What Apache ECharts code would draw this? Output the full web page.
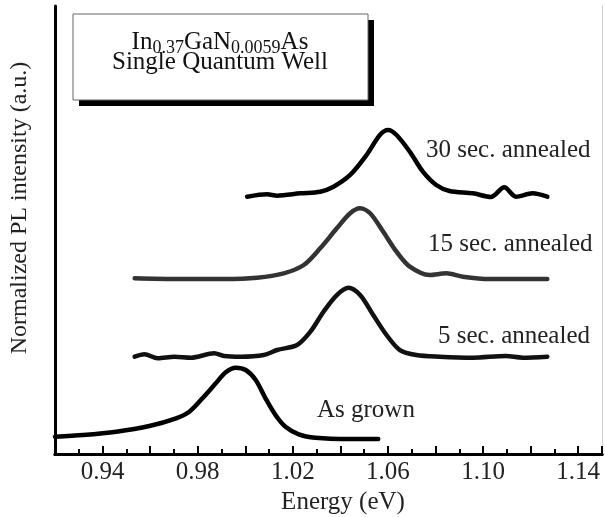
<!DOCTYPE html>
<html>
<head>
<meta charset="utf-8">
<script src="https://cdn.jsdelivr.net/npm/echarts@6/dist/echarts.min.js"></script>
<style>
  html, body { margin: 0; padding: 0; background: #fff; }
  #chart { width: 605px; height: 517px; }
</style>
</head>
<body>
<div id="chart"></div>
<script>
// PL spectra, energy (eV) vs normalized intensity (a.u., offset per curve)
const asGrownE = [0.9200, 0.9318, 0.9458, 0.9597, 0.9709, 0.9765, 0.9820, 0.9876, 0.9918, 0.9960, 1.0002, 1.0044, 1.0085, 1.0127, 1.0169, 1.0225, 1.0295, 1.0434, 1.0559];
const asGrownI = [3.86, 4.24, 4.98, 6.25, 7.97, 9.44, 12.43, 15.78, 18.24, 19.26, 18.75, 16.52, 12.43, 8.71, 6.09, 4.40, 3.64, 3.35, 3.35];

const sec5E = [0.9535, 0.9576, 0.9632, 0.9702, 0.9772, 0.9869, 0.9911, 0.9981, 1.0078, 1.0134, 1.0218, 1.0274, 1.0329, 1.0385, 1.0434, 1.0483, 1.0538, 1.0594, 1.0650, 1.0719, 1.0817, 1.0957, 1.1096, 1.1166, 1.1270];
const sec5I = [21.72, 22.25, 21.36, 21.72, 21.50, 22.48, 21.88, 21.72, 22.10, 23.21, 24.33, 27.30, 31.76, 35.49, 37.12, 35.49, 31.03, 26.56, 23.21, 22.10, 21.72, 21.50, 21.88, 21.50, 21.72];

const sec15E = [0.9535, 0.9702, 0.9911, 1.0050, 1.0162, 1.0246, 1.0315, 1.0385, 1.0441, 1.0483, 1.0525, 1.0580, 1.0636, 1.0692, 1.0775, 1.0845, 1.0915, 1.1026, 1.1166, 1.1270];
const sec15I = [39.22, 39.06, 39.06, 39.35, 40.33, 42.19, 45.91, 50.38, 53.73, 54.84, 53.73, 49.62, 45.16, 41.81, 39.96, 40.33, 39.58, 39.06, 39.06, 39.06];

const sec30E = [1.0008, 1.0092, 1.0134, 1.0232, 1.0315, 1.0371, 1.0441, 1.0510, 1.0566, 1.0601, 1.0636, 1.0692, 1.0747, 1.0803, 1.0859, 1.0957, 1.1033, 1.1089, 1.1138, 1.1208, 1.1270];
const sec30I = [57.43, 57.97, 57.66, 58.19, 58.55, 59.66, 62.28, 66.74, 71.21, 72.32, 71.21, 67.48, 63.01, 60.04, 58.71, 58.19, 57.37, 59.53, 57.43, 58.19, 57.43];

const curveNames = ['As grown', '5 sec. annealed', '15 sec. annealed', '30 sec. annealed'];

const FONT = '"Liberation Serif", "Times New Roman", serif';
const chart = echarts.init(document.getElementById('chart'));

function zip(xs, ys) {
  return xs.map((x, i) => [x, ys[i]]);
}

// measure text so the formula pieces sit next to each other
const mctx = document.createElement('canvas').getContext('2d');
function textW(s, size) {
  mctx.font = size + 'px ' + FONT;
  return mctx.measureText(s).width;
}

// title box formula In0.37GaN0.0059As
const pieces = [['In', 25, 0], ['0.37', 18, 1], ['GaN', 25, 0], ['0.0059', 18, 1], ['As', 25, 0]];
const boxCx = 220;
let total = 0;
pieces.forEach(p => { total += textW(p[0], p[1]); });
let px = boxCx - total / 2;
const formulaTexts = pieces.map(p => {
  const el = {
    type: 'text',
    left: px,
    top: p[2] ? 39 : 30,
    style: { text: p[0], font: p[1] + 'px ' + FONT, fill: '#111' }
  };
  px += textW(p[0], p[1]);
  return el;
});

function seriesOf(name, xs, ys, color) {
  return {
    name: name,
    type: 'line',
    data: zip(xs, ys),
    showSymbol: false,
    smooth: 0.3,
    animation: false,
    lineStyle: { color: color, width: 4.5, cap: 'round', join: 'round' }
  };
}

const option = {
  animation: false,
  grid: { left: 55, right: 1, top: 6, bottom: 63 },
  xAxis: [{
    type: 'value',
    min: 0.92,
    max: 1.15,
    interval: 0.02,
    axisLine: { lineStyle: { color: '#000', width: 3 } },
    axisTick: { inside: true, length: 8, lineStyle: { color: '#000', width: 2 } },
    minorTick: { show: true, splitNumber: 2, length: 5, lineStyle: { color: '#000', width: 2 } },
    splitLine: { show: false },
    axisLabel: {
      margin: 6,
      fontSize: 25,
      fontFamily: FONT,
      color: '#222',
      formatter: v => (Math.round(v * 100) % 4 === 2 ? v.toFixed(2) : '')
    }
  }, {
    type: 'value',
    position: 'top',
    min: 0.92,
    max: 1.15,
    axisLine: { lineStyle: { color: '#000', width: 3 } },
    axisTick: { show: false },
    axisLabel: { show: false },
    splitLine: { show: false }
  }],
  yAxis: [{
    type: 'value',
    min: 0,
    max: 100,
    axisLine: { show: true, lineStyle: { color: '#000', width: 3 } },
    axisTick: { show: false },
    axisLabel: { show: false },
    splitLine: { show: false }
  }, {
    type: 'value',
    position: 'right',
    min: 0,
    max: 100,
    axisLine: { show: true, lineStyle: { color: '#ccc', width: 1 } },
    axisTick: { show: false },
    axisLabel: { show: false },
    splitLine: { show: false }
  }],
  series: [
    seriesOf(curveNames[0], asGrownE, asGrownI, '#000'),
    seriesOf(curveNames[1], sec5E, sec5I, '#111'),
    seriesOf(curveNames[2], sec15E, sec15I, '#333'),
    seriesOf(curveNames[3], sec30E, sec30I, '#000')
  ],
  graphic: [
    // title box with drop shadow
    { type: 'rect', shape: { x: 79, y: 20, width: 295, height: 86 }, style: { fill: '#000' } },
    { type: 'rect', shape: { x: 73, y: 14, width: 295, height: 86 }, style: { fill: '#fff', stroke: '#666', lineWidth: 1 } },
    ...formulaTexts,
    {
      type: 'text', x: boxCx, y: 62,
      style: { text: 'Single Quantum Well', font: '25px ' + FONT, fill: '#111', align: 'center', verticalAlign: 'middle' }
    },
    // curve annotations
    { type: 'text', x: 426, y: 150, style: { text: curveNames[3], font: '25px ' + FONT, fill: '#222', verticalAlign: 'middle' } },
    { type: 'text', x: 428, y: 244, style: { text: curveNames[2], font: '25px ' + FONT, fill: '#222', verticalAlign: 'middle' } },
    { type: 'text', x: 438, y: 336, style: { text: curveNames[1], font: '25px ' + FONT, fill: '#222', verticalAlign: 'middle' } },
    { type: 'text', x: 317, y: 410, style: { text: curveNames[0], font: '25px ' + FONT, fill: '#222', verticalAlign: 'middle' } },
    // axis titles
    {
      type: 'text', x: 20, y: 208, rotation: Math.PI / 2,
      style: { text: 'Normalized PL intensity (a.u.)', font: '24px ' + FONT, fill: '#222', align: 'center', verticalAlign: 'middle' }
    },
    {
      type: 'text', x: 343, y: 502,
      style: { text: 'Energy (eV)', font: '25px ' + FONT, fill: '#222', align: 'center', verticalAlign: 'middle' }
    }
  ]
};

chart.setOption(option);
</script>
</body>
</html>
